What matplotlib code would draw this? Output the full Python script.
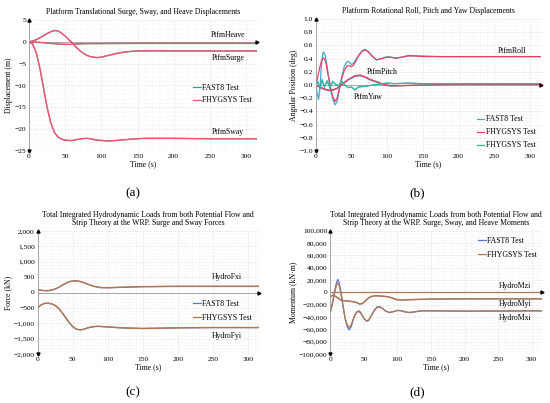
import matplotlib
matplotlib.use("Agg")
import matplotlib.pyplot as plt
from matplotlib.ticker import MultipleLocator, FuncFormatter

plt.rcParams['font.family'] = ['Liberation Serif', 'DejaVu Serif']

# ---------------- data (a) ----------------
t_surge = [0, 5, 10, 15, 20, 25, 30, 35, 40, 45, 50, 55, 60, 65, 70, 75, 80, 85, 90, 95, 100, 110, 120, 130, 140, 150, 175, 200, 250, 315]
surge = [0, 0.2, 0.5, 0.9, 1.4, 1.9, 2.3, 2.6, 2.5, 2.0, 1.3, 0.5, -0.3, -1.2, -2.0, -2.6, -3.1, -3.4, -3.55, -3.6, -3.5, -3.1, -2.7, -2.4, -2.2, -2.1, -2.05, -2.1, -2.1, -2.1]
t_heave = [0, 10, 20, 30, 40, 50, 55, 60, 70, 85, 100, 150, 200, 315]
heave = [0, -0.08, -0.2, -0.35, -0.5, -0.58, -0.6, -0.55, -0.45, -0.4, -0.4, -0.35, -0.35, -0.35]
t_sway = [0, 5, 10, 15, 20, 25, 30, 35, 40, 45, 50, 55, 60, 65, 70, 75, 80, 85, 90, 100, 110, 120, 140, 160, 200, 250, 315]
sway = [0, -0.5, -2.5, -6, -10.5, -15, -18.5, -20.7, -21.8, -22.3, -22.5, -22.6, -22.6, -22.4, -22.3, -22.15, -22.1, -22.2, -22.4, -22.6, -22.7, -22.6, -22.3, -22.1, -22.1, -22.2, -22.2]

# ---------------- data (b) ----------------
t_roll = [0, 2, 4, 6, 8, 10, 11, 13, 15, 18, 21, 24, 27, 30, 33, 36, 40, 44, 47, 50, 53, 56, 60, 65, 69, 73, 78, 85, 92, 100, 106, 112, 120, 130, 140, 150, 175, 200, 250, 315]
roll_fast = [0, -0.12, -0.22, -0.05, 0.30, 0.48, 0.50, 0.46, 0.35, 0.12, -0.08, -0.22, -0.30, -0.25, -0.08, 0.10, 0.28, 0.36, 0.35, 0.31, 0.33, 0.38, 0.45, 0.52, 0.54, 0.51, 0.45, 0.38, 0.40, 0.43, 0.42, 0.40, 0.42, 0.45, 0.44, 0.44, 0.43, 0.43, 0.43, 0.43]
roll_fhyg = [0, 0.08, 0.18, 0.28, 0.36, 0.40, 0.41, 0.38, 0.30, 0.12, -0.05, -0.18, -0.25, -0.20, -0.06, 0.08, 0.22, 0.29, 0.29, 0.28, 0.30, 0.36, 0.44, 0.51, 0.53, 0.51, 0.45, 0.38, 0.40, 0.42, 0.42, 0.41, 0.42, 0.44, 0.44, 0.43, 0.43, 0.43, 0.43, 0.43]
t_pitch = [0, 5, 10, 15, 20, 25, 30, 35, 40, 45, 50, 55, 62, 70, 75, 80, 88, 95, 105, 120, 150, 200, 315]
pitch_fast = [0, -0.03, -0.06, -0.08, -0.09, -0.08, -0.05, -0.01, 0.03, 0.07, 0.10, 0.13, 0.14, 0.11, 0.08, 0.06, 0.03, 0.0, -0.02, -0.01, 0.0, 0.01, 0.01]
pitch_fhyg = [0, -0.03, -0.05, -0.07, -0.08, -0.07, -0.05, -0.01, 0.04, 0.08, 0.11, 0.14, 0.15, 0.12, 0.09, 0.07, 0.04, 0.01, -0.01, -0.01, 0.0, 0.01, 0.01]
t_yaw = [0, 3, 6, 9, 12, 16, 20, 24, 28, 32, 36, 40, 45, 50, 55, 60, 70, 80, 100, 110, 130, 150, 200, 315]
yaw_fast = [0, 0.06, -0.06, 0.09, -0.04, 0.07, -0.05, 0.06, 0.0, -0.02, 0.07, 0.01, -0.04, -0.03, -0.08, -0.03, -0.02, 0.0, 0.03, 0.02, 0.03, 0.02, 0.02, 0.02]
yaw_fhyg = [0, 0.04, -0.04, 0.07, -0.02, 0.05, -0.04, 0.05, 0.01, -0.01, 0.05, 0.01, -0.04, -0.03, -0.07, -0.03, -0.02, 0.0, 0.03, 0.02, 0.03, 0.02, 0.02, 0.02]

# ---------------- data (c) ----------------
t_fxi = [0, 5, 10, 15, 20, 25, 30, 35, 40, 45, 50, 55, 60, 65, 70, 75, 80, 90, 100, 120, 150, 200, 315]
fxi = [100, 70, 60, 60, 80, 115, 170, 235, 300, 350, 375, 380, 360, 325, 280, 240, 200, 160, 155, 170, 190, 200, 200]
t_fyi = [0, 5, 10, 15, 20, 25, 30, 35, 40, 45, 50, 55, 60, 65, 70, 75, 80, 85, 90, 100, 120, 150, 200, 250, 315]
fyi = [-500, -400, -355, -350, -370, -420, -520, -660, -820, -980, -1110, -1190, -1215, -1200, -1160, -1130, -1110, -1100, -1105, -1120, -1150, -1170, -1150, -1140, -1140]

# ---------------- data (d) ----------------
t_mzi = [0, 315]
mzi = [0, 0]
t_myi = [0, 3, 6, 10, 15, 20, 30, 38, 44, 48, 52, 57, 62, 68, 75, 85, 92, 98, 105, 115, 130, 150, 200, 315]
myi = [-7000, -5000, -5500, -8000, -12000, -13500, -14500, -16000, -19000, -18000, -14000, -9000, -6500, -5500, -6000, -7000, -9000, -11500, -12500, -12000, -11500, -11000, -10500, -10500]
t_mxi = [0, 3, 6, 9, 11, 13, 16, 19, 22, 25, 28, 31, 34, 37, 40, 43, 46, 50, 54, 57, 61, 66, 70, 73, 77, 82, 88, 95, 100, 106, 112, 118, 125, 135, 150, 200, 315]
mxi_fast = [-32000, -18000, 0, 15000, 21000, 17000, 0, -22000, -42000, -55000, -61000, -56000, -45000, -36000, -31000, -30000, -34000, -42000, -47000, -46000, -38000, -28000, -23500, -23000, -25000, -30000, -33000, -31000, -29000, -30000, -32000, -33000, -32000, -30000, -30000, -30500, -30000]
mxi_fhyg = [-32000, -20000, -3000, 11000, 15000, 12000, -3000, -23000, -41000, -52000, -57000, -53000, -44000, -36000, -32000, -31000, -35000, -42000, -46000, -45000, -38000, -29000, -24500, -24000, -25500, -30000, -32500, -31000, -29500, -30000, -31500, -32500, -31500, -30000, -30000, -30500, -30000]

W, H = 550, 403
fig = plt.figure(figsize=(5.5, 4.03), dpi=100)


def mk_axes(l, r, t, b):
    return fig.add_axes([l / W, 1 - b / H, (r - l) / W, (b - t) / H])


def style(ax, ymin, ymax, ymaj, ymin_step, xmax=315):
    ax.set_xlim(0, xmax)
    ax.set_ylim(ymin, ymax)
    ax.xaxis.set_major_locator(MultipleLocator(50))
    ax.xaxis.set_minor_locator(MultipleLocator(10))
    ax.yaxis.set_major_locator(MultipleLocator(ymaj))
    ax.yaxis.set_minor_locator(MultipleLocator(ymin_step))
    ax.grid(True, which='major', color='#e2e2e2', lw=0.5, ls=(0, (3, 2)))
    ax.grid(True, which='minor', color='#f2f2f2', lw=0.4, ls=(0, (3, 2)))
    for s in ['top', 'right', 'bottom']:
        ax.spines[s].set_visible(False)
    ax.spines['left'].set_color('#9a9a9a')
    ax.spines['left'].set_linewidth(0.6)
    ax.tick_params(which='both', length=0, labelsize=5.4, pad=2)
    ax.axhline(0, color='#9a9a9a', lw=0.6, zorder=1)
    ax.plot([0], [ymax], marker='^', color='k', ms=2.2, clip_on=False, zorder=5)
    ax.plot([0], [ymin], marker='v', color='k', ms=2.2, clip_on=False, zorder=5)
    ax.plot([xmax], [0], marker='>', color='k', ms=2.2, clip_on=False, zorder=5)
    ax.set_xlabel('Time (s)', fontsize=5.6, labelpad=1)
    ax.set_axisbelow(True)


def leg(ax, x, y, spacing):
    return ax.legend(loc='upper left', bbox_to_anchor=(x, y), frameon=False, fontsize=5.6,
                     handlelength=1.0, handletextpad=0.15, labelspacing=spacing, borderpad=0,
                     borderaxespad=0)


LW_B, LW_T = 0.8, 1.05

# ---------- (a) ----------
ax = mk_axes(29, 257, 20, 151)
style(ax, -25, 5, 5, 1)
c_fast_a, c_fhyg_a = '#2f9fae', '#f05470'
for tt, yy in [(t_surge, surge), (t_heave, heave), (t_sway, sway)]:
    ax.plot(tt, yy, color=c_fast_a, lw=LW_B)
    ax.plot(tt, yy, color=c_fhyg_a, lw=LW_T)
ax.plot([], [], color=c_fast_a, lw=0.9, label='FAST8 Test')
ax.plot([], [], color=c_fhyg_a, lw=0.9, label='FHYGSYS Test')
ax.set_ylabel('Displacement (m)', fontsize=5.6, labelpad=1)
ax.set_title('Platform Translational Surge, Sway, and Heave Displacements', fontsize=5.6, pad=4)
ax.text(275, 1.6, 'PtfmHeave', fontsize=5.6, ha='center', va='center')
ax.text(275, -3.6, 'PtfmSurge', fontsize=5.6, ha='center', va='center')
ax.text(275, -20.6, 'PtfmSway', fontsize=5.6, ha='center', va='center')
leg(ax, 0.72, 0.51, 0.55)
fig.text(133 / W, 1 - 193 / H, '(a)', fontsize=9.5, ha='center', va='center')

# ---------- (b) ----------
ax = mk_axes(315.7, 540.7, 19, 151)
style(ax, -1, 1, 0.2, 0.05)
ax.yaxis.set_major_formatter(FuncFormatter(lambda v, p: f'{v:.1f}'.replace('-', '\u2212')))
c_fast_b, c_fhyg_b, c_yaw_b = '#42a8d2', '#e8405e', '#2fb896'
ax.plot(t_roll, roll_fast, color=c_fast_b, lw=0.9)
ax.plot(t_roll, roll_fhyg, color=c_fhyg_b, lw=0.9)
ax.plot(t_pitch, pitch_fast, color=c_fast_b, lw=LW_B)
ax.plot(t_pitch, pitch_fhyg, color=c_fhyg_b, lw=LW_T)
ax.plot(t_yaw, yaw_fast, color=c_fast_b, lw=0.7)
ax.plot(t_yaw, yaw_fhyg, color=c_yaw_b, lw=0.9)
ax.plot([], [], color=c_fast_b, lw=0.9, label='FAST8 Test')
ax.plot([], [], color=c_fhyg_b, lw=0.9, label='FHYGSYS Test')
ax.plot([], [], color=c_yaw_b, lw=0.9, label='FHYGSYS Test')
ax.set_ylabel('Angular Position (deg)', fontsize=5.6, labelpad=1)
ax.set_title('Platform Rotational Roll, Pitch and Yaw Displacements', fontsize=5.6, pad=4)
ax.text(275, 0.51, 'PtfmRoll', fontsize=5.6, ha='center', va='center')
ax.text(93, 0.19, 'PtfmPitch', fontsize=5.6, ha='center', va='center')
ax.text(73, -0.18, 'PtfmYaw', fontsize=5.6, ha='center', va='center')
leg(ax, 0.715, 0.27, 0.65)
fig.text(417 / W, 1 - 193 / H, '(b)', fontsize=9.5, ha='center', va='center')

# ---------- (c) ----------
ax = mk_axes(37.7, 258.5, 231, 354)
style(ax, -2000, 2000, 500, 100)
ax.yaxis.set_major_formatter(FuncFormatter(lambda v, p: f'{v:,.0f}'.replace('-', '\u2212')))
c_fast_c, c_fhyg_c = '#5a78d8', '#b4764f'
for tt, yy in [(t_fxi, fxi), (t_fyi, fyi)]:
    ax.plot(tt, yy, color=c_fast_c, lw=LW_B)
    ax.plot(tt, yy, color=c_fhyg_c, lw=LW_T)
ax.plot([], [], color=c_fast_c, lw=0.9, label='FAST8 Test')
ax.plot([], [], color=c_fhyg_c, lw=0.9, label='FHYGSYS Test')
ax.set_ylabel('Force (kN)', fontsize=5.6, labelpad=1)
ax.set_title('Total Integrated Hydrodynamic Loads from both Potential Flow and\nStrip Theory at the WRP. Surge and Sway Forces',
             fontsize=5.6, pad=4, linespacing=1.1)
ax.text(270, 500, 'HydroFxi', fontsize=5.6, ha='center', va='center')
ax.text(270, -1420, 'HydroFyi', fontsize=5.6, ha='center', va='center')
leg(ax, 0.705, 0.44, 0.75)
fig.text(133 / W, 1 - 392 / H, '(c)', fontsize=9.5, ha='center', va='center')

# ---------- (d) ----------
ax = mk_axes(330.3, 541.7, 230.7, 354)
style(ax, -100000, 100000, 20000, 5000)
ax.yaxis.set_major_formatter(FuncFormatter(lambda v, p: f'{v:,.0f}'.replace('-', '\u2212')))
ax.plot(t_mzi, mzi, color=c_fhyg_c, lw=0.9)
ax.plot(t_myi, myi, color=c_fast_c, lw=LW_B)
ax.plot(t_myi, myi, color=c_fhyg_c, lw=LW_T)
ax.plot(t_mxi, mxi_fast, color=c_fast_c, lw=0.9)
ax.plot(t_mxi, mxi_fhyg, color=c_fhyg_c, lw=0.9)
ax.plot([], [], color=c_fast_c, lw=0.9, label='FAST8 Test')
ax.plot([], [], color=c_fhyg_c, lw=0.9, label='FHYGSYS Test')
ax.set_ylabel('Momentum (kN\u00b7m)', fontsize=5.6, labelpad=1)
ax.set_title('Total Integrated Hydrodynamic Loads from both Potential Flow and\nStrip Theory at the WRP. Surge, Sway, and Heave Moments',
             fontsize=5.6, pad=4, linespacing=1.1)
ax.text(275, 10500, 'HydroMzi', fontsize=5.6, ha='center', va='center')
ax.text(275, -19000, 'HydroMyi', fontsize=5.6, ha='center', va='center')
ax.text(275, -42000, 'HydroMxi', fontsize=5.6, ha='center', va='center')
leg(ax, 0.70, 0.95, 0.75)
fig.text(417 / W, 1 - 392 / H, '(d)', fontsize=9.5, ha='center', va='center')

fig.savefig('out.png', dpi=100)
